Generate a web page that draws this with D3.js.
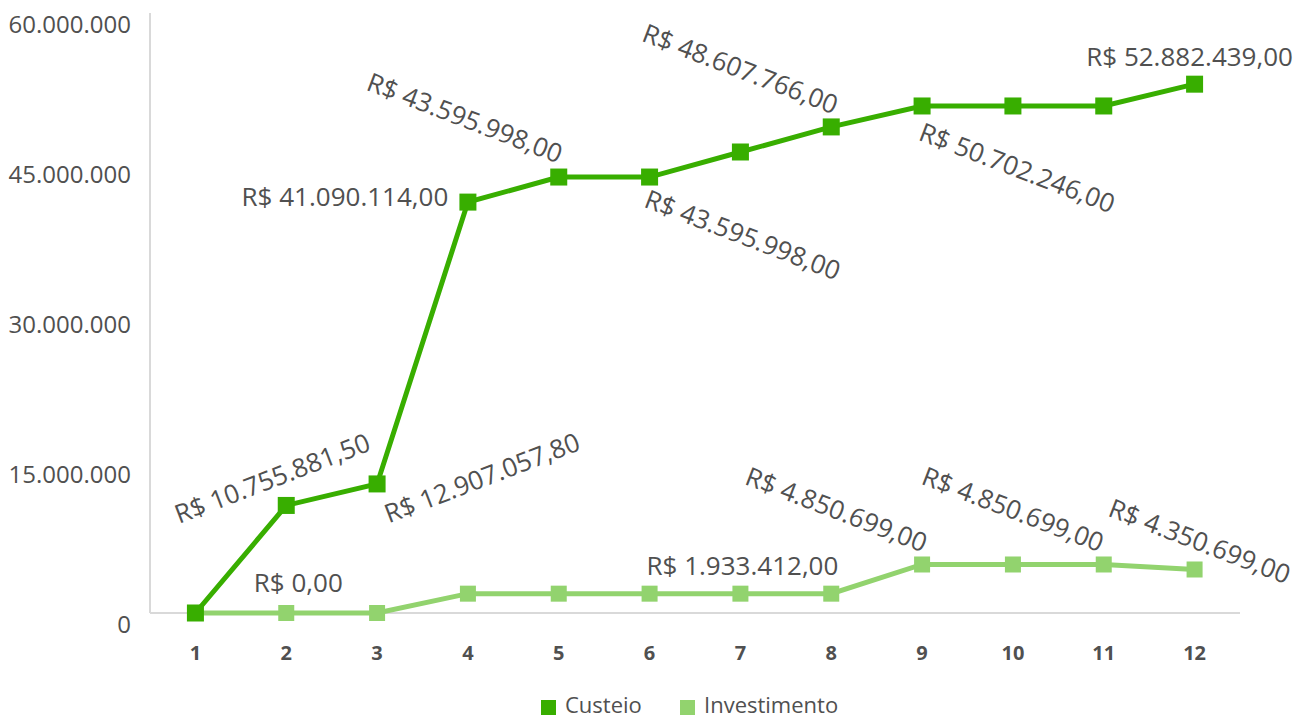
<!DOCTYPE html>
<html>
<head>
<meta charset="utf-8">
<script src="https://cdn.jsdelivr.net/npm/d3@7"></script>
<style>
  body { margin: 0; background: #fff; }
  svg { display: block; font-family: "Open Sans", sans-serif; }
</style>
</head>
<body>
<svg width="1298" height="717"></svg>
<script>
// chart data
var months = ["1", "2", "3", "4", "5", "6", "7", "8", "9", "10", "11", "12"];
var custeio = [0, 10755881.5, 12907057.8, 41090114, 43595998, 43595998, 46100000, 48607766, 50702246, 50702246, 50702246, 52882439];
var investimento = [0, 0, 0, 1933412, 1933412, 1933412, 1933412, 1933412, 4850699, 4850699, 4850699, 4350699];
var yTicks = [0, 15000000, 30000000, 45000000, 60000000];

// data labels: point index and text
var custeioLabelIdx = [1, 2, 3, 4, 5, 7, 8, 11];
var custeioLabelTxt = ["R$ 10.755.881,50", "R$ 12.907.057,80", "R$ 41.090.114,00", "R$ 43.595.998,00",
    "R$ 43.595.998,00", "R$ 48.607.766,00", "R$ 50.702.246,00", "R$ 52.882.439,00"];
var investLabelIdx = [1, 6, 7, 9, 11];
var investLabelTxt = ["R$ 0,00", "R$ 1.933.412,00", "R$ 4.850.699,00", "R$ 4.850.699,00", "R$ 4.350.699,00"];

// label placement (centre offset from point, rotation)
var custeioPlace = [[-14, -27, -21], [105, -6, -21], [-123, -5, 0], [-94, -59, 21],
    [93, 58, 21], [-91, -58, 21], [95, 62, 21], [-5, -27, 0]];
var investPlace = [[12, -30, 0], [2, -28, 0], [5, -84, 21], [0, -55, 21], [5, -28, 21]];

var svg = d3.select("svg");
var mLeft = 150, mRight = 1240, mTop = 13, mBottom = 613;
var textColor = "#505050";
var cDark = "#38ae00", cLight = "#92d36e";

var x = d3.scaleBand().domain(months).range([mLeft, mRight]);
var y = d3.scaleLinear().domain([0, 60000000]).range([mBottom, mTop]);
var cx = function (i) { return x(months[i]) + x.bandwidth() / 2; };

//axis lines
svg.append("line").attr("x1", mLeft).attr("x2", mLeft).attr("y1", mTop).attr("y2", mBottom)
    .attr("stroke", "#d9d9d9").attr("stroke-width", 2);
svg.append("line").attr("x1", mLeft).attr("x2", mRight).attr("y1", mBottom).attr("y2", mBottom)
    .attr("stroke", "#d9d9d9").attr("stroke-width", 2);

//y tick labels
var fmt = function (v) { return d3.format(",")(v).replace(/,/g, "."); };
svg.selectAll(".ytick").data(yTicks).enter().append("text")
    .attr("class", "ytick")
    .attr("x", 131)
    .attr("y", function (d) { return y(d) + 12; })
    .attr("dy", "0.35em")
    .attr("text-anchor", "end")
    .attr("font-size", "24px")
    .attr("fill", textColor)
    .text(fmt);

//x tick labels
svg.selectAll(".xtick").data(months).enter().append("text")
    .attr("class", "xtick")
    .attr("x", function (d, i) { return cx(i); })
    .attr("y", 653)
    .attr("dy", "0.35em")
    .attr("text-anchor", "middle")
    .attr("font-size", "20px")
    .attr("font-weight", "bold")
    .attr("fill", textColor)
    .text(function (d) { return d; });

function drawSeries(values, color, size) {
    var line = d3.line()
        .x(function (d, i) { return cx(i); })
        .y(function (d) { return y(d); });
    svg.append("path").datum(values)
        .attr("d", line)
        .attr("fill", "none")
        .attr("stroke", color)
        .attr("stroke-width", 5);
    svg.selectAll(null).data(values).enter().append("rect")
        .attr("x", function (d, i) { return cx(i) - size / 2; })
        .attr("y", function (d) { return y(d) - size / 2; })
        .attr("width", size)
        .attr("height", size)
        .attr("fill", color);
}

drawSeries(investimento, cLight, 16);
drawSeries(custeio, cDark, 17);

function drawLabels(values, idx, txt, place) {
    idx.forEach(function (k, j) {
        var p = place[j];
        var px = cx(k) + p[0], py = y(values[k]) + p[1];
        svg.append("text")
            .attr("transform", "translate(" + px + "," + py + ") rotate(" + p[2] + ")")
            .attr("text-anchor", "middle")
            .attr("dy", "0.35em")
            .attr("font-size", "26px")
            .attr("fill", textColor)
            .text(txt[j]);
    });
}

drawLabels(custeio, custeioLabelIdx, custeioLabelTxt, custeioPlace);
drawLabels(investimento, investLabelIdx, investLabelTxt, investPlace);

//legend
var legend = [["Custeio", cDark, 541], ["Investimento", cLight, 680]];
legend.forEach(function (l) {
    svg.append("rect").attr("x", l[2]).attr("y", 700).attr("width", 15).attr("height", 15).attr("fill", l[1]);
    svg.append("text").attr("x", l[2] + 24).attr("y", 705).attr("dy", "0.35em")
        .attr("font-size", "22px").attr("fill", textColor).text(l[0]);
});
</script>
</body>
</html>
